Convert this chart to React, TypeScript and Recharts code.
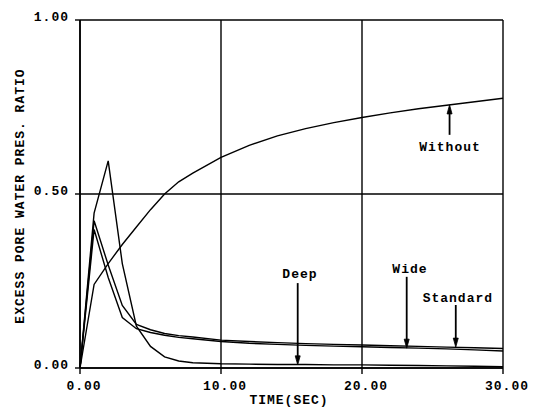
import React from 'react';
import { LineChart, Line, XAxis, YAxis, CartesianGrid, ReferenceLine, ReferenceDot } from 'recharts';

const TIME = [0, 1, 2, 3, 4, 5, 6, 7, 8, 10, 12, 14, 16, 18, 20, 22, 24, 26, 28, 30];
const WITHOUT = [0, 0.24, 0.3, 0.355, 0.405, 0.455, 0.5, 0.535, 0.56, 0.605, 0.64, 0.667, 0.688, 0.705, 0.72, 0.733, 0.745, 0.755, 0.765, 0.775];
const STANDARD = [0, 0.423, 0.296, 0.18, 0.125, 0.11, 0.099, 0.093, 0.089, 0.08, 0.076, 0.073, 0.07, 0.068, 0.066, 0.064, 0.062, 0.06, 0.058, 0.056];
const WIDE = [0, 0.398, 0.26, 0.145, 0.113, 0.102, 0.094, 0.088, 0.084, 0.076, 0.071, 0.068, 0.065, 0.063, 0.061, 0.059, 0.057, 0.055, 0.052, 0.049];
const DEEP = [0, 0.445, 0.595, 0.3, 0.12, 0.062, 0.032, 0.02, 0.015, 0.012, 0.011, 0.01, 0.01, 0.009, 0.009, 0.008, 0.007, 0.006, 0.005, 0.004];

const X_TICKS = [0, 10, 20, 30];
const Y_TICKS = [0, 0.5, 1];
const X_LABEL = 'TIME(SEC)';
const Y_LABEL = 'EXCESS PORE WATER PRES. RATIO';

const ANNOTATION_NAMES = ['Without', 'Deep', 'Wide', 'Standard'];
const LABEL_T = [26.24, 15.6, 23.4, 26.8];
const LABEL_V = [0.635, 0.27, 0.284, 0.201];
const ARROW_T = [26.21, 15.44, 23.17, 26.65];
const ARROW_FROM = [0.67, 0.244, 0.262, 0.181];
const ARROW_TO = [0.756, 0.009, 0.057, 0.06];

const data = TIME.map((t, i) => ({
  t,
  without: WITHOUT[i],
  standard: STANDARD[i],
  wide: WIDE[i],
  deep: DEEP[i],
}));

const FONT = '"Liberation Mono", "DejaVu Sans Mono", monospace';
const textStyle = { fontFamily: FONT, fontWeight: 700, fontSize: 13, letterSpacing: 1 } as const;

const XTick = (props: any) => {
  const { x, y, payload } = props;
  return (
    <text x={x + 4} y={y + 14} textAnchor="middle" fill="#000" style={textStyle}>
      {Number(payload.value).toFixed(2)}
    </text>
  );
};

const YTick = (props: any) => {
  const { x, y, payload } = props;
  return (
    <text x={x - 4} y={y + 1} textAnchor="end" fill="#000" style={textStyle}>
      {Number(payload.value).toFixed(2)}
    </text>
  );
};

const Arrow = (props: any) => {
  const { x1, y1, x2, y2 } = props;
  const dir = y2 > y1 ? 1 : -1;
  const headLen = 9;
  const headW = 2.5;
  return (
    <g>
      <line x1={x1} y1={y1} x2={x2} y2={y2 - dir * headLen * 0.6} stroke="#000" strokeWidth={1.8} />
      <polygon
        points={`${x2},${y2} ${x2 - headW},${y2 - dir * headLen} ${x2 + headW},${y2 - dir * headLen}`}
        fill="#000"
        stroke="#000"
        strokeWidth={0.8}
      />
    </g>
  );
};

const makeLabel = (text: string) => (props: any) => {
  const { cx, cy } = props;
  return (
    <text x={cx} y={cy} dy="0.33em" textAnchor="middle" fill="#000" style={textStyle}>
      {text}
    </text>
  );
};

export default function App() {
  return (
    <div style={{ position: 'absolute', left: 0, top: 0, background: '#fff' }}>
      <LineChart
        width={543}
        height={411}
        data={data}
        margin={{ top: 20, right: 40, bottom: 0, left: 0 }}
        style={{ fontFamily: FONT }}
      >
        <CartesianGrid stroke="#000" strokeWidth={1.4} horizontal vertical />
        <XAxis
          dataKey="t"
          type="number"
          domain={[0, 30]}
          ticks={X_TICKS}
          height={43}
          tickSize={6}
          tickMargin={2}
          axisLine={{ stroke: '#000', strokeWidth: 1.6 }}
          tickLine={{ stroke: '#000', strokeWidth: 1.4 }}
          tick={<XTick />}
          interval={0}
          label={(p: any) => (
            <text x={289} y={404} textAnchor="middle" fill="#000" style={textStyle}>
              {X_LABEL}
            </text>
          )}
        />
        <YAxis
          type="number"
          domain={[0, 1]}
          ticks={Y_TICKS}
          width={80}
          tickSize={5}
          tickMargin={2}
          axisLine={{ stroke: '#000', strokeWidth: 1.6 }}
          tickLine={{ stroke: '#000', strokeWidth: 1.4 }}
          tick={<YTick />}
          interval={0}
          label={(p: any) => (
            <text
              x={24}
              y={196}
              transform="rotate(-90, 24, 196)"
              textAnchor="middle"
              fill="#000"
              style={textStyle}
            >
              {Y_LABEL}
            </text>
          )}
        />
        <Line type="linear" dataKey="without" stroke="#000" strokeWidth={1.4} dot={false} isAnimationActive={false} />
        <Line type="linear" dataKey="standard" stroke="#000" strokeWidth={1.4} dot={false} isAnimationActive={false} />
        <Line type="linear" dataKey="wide" stroke="#000" strokeWidth={1.4} dot={false} isAnimationActive={false} />
        <Line type="linear" dataKey="deep" stroke="#000" strokeWidth={1.4} dot={false} isAnimationActive={false} />
        {ANNOTATION_NAMES.map((name, i) => (
          <ReferenceLine
            key={'arrow-' + name}
            segment={[
              { x: ARROW_T[i], y: ARROW_FROM[i] },
              { x: ARROW_T[i], y: ARROW_TO[i] },
            ]}
            stroke="#000"
            shape={Arrow}
          />
        ))}
        {ANNOTATION_NAMES.map((name, i) => (
          <ReferenceDot
            key={'label-' + name}
            x={LABEL_T[i]}
            y={LABEL_V[i]}
            r={0}
            shape={makeLabel(name)}
          />
        ))}
      </LineChart>
    </div>
  );
}
